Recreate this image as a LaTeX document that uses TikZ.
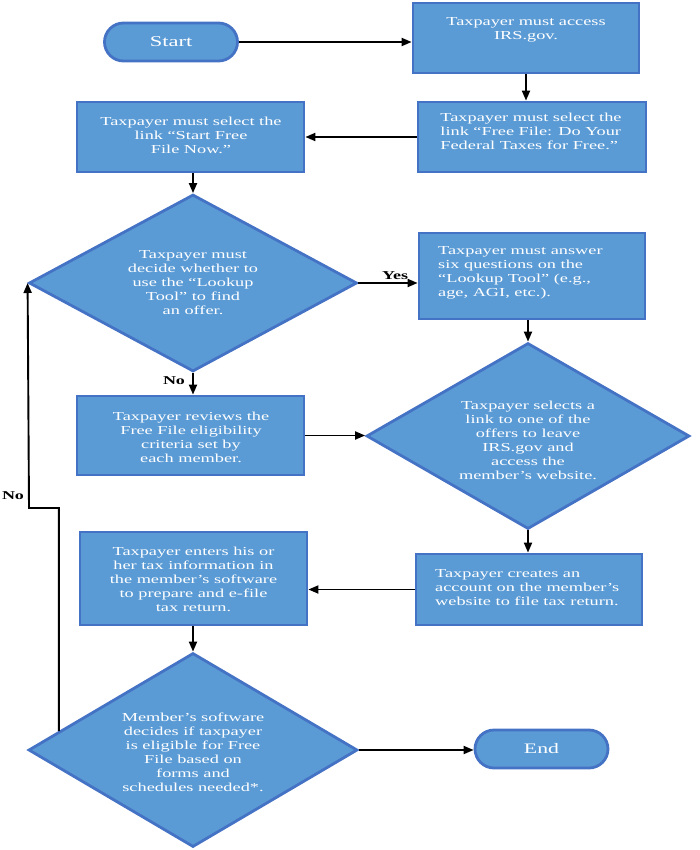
\documentclass[tikz,border=0pt]{standalone}
\usepackage{fontspec}
\setmainfont{Liberation Serif}[FakeStretch=1.5]
\usetikzlibrary{shapes.geometric,arrows.meta}
\definecolor{boxfill}{HTML}{5B9BD5}
\definecolor{boxline}{HTML}{4472C4}
\begin{document}
\begin{tikzpicture}[x=1bp,y=-1bp,
 shapebox/.style={draw=boxline, fill=boxfill, line width=2.8bp, inner sep=0},
 proc/.style={shapebox, rectangle},
 term/.style={shapebox, rectangle, rounded corners=19bp, minimum width=133bp, minimum height=38bp, text=white, font=\fontsize{15bp}{17bp}\selectfont},
 dec/.style={shapebox, diamond},
 txt/.style={text=white, inner sep=0, font=\fontsize{12.2bp}{14bp}\selectfont},
 arr/.style={line width=1.9bp, -{Triangle[length=10bp,width=8bp]}},
 lab/.style={font=\bfseries\fontsize{12bp}{14bp}\selectfont, inner sep=0}]
\useasboundingbox (0,0) rectangle (700,850);

\node[term] (start) at (171,42) {Start};
\node[proc, minimum width=226bp, minimum height=70bp] (b1) at (526,38) {};
\node[txt, align=center] (t1) at (526,30) {Taxpayer must access\\IRS.gov.};
\node[proc, minimum width=228bp, minimum height=70bp] (b2) at (532,137) {};
\node[txt, align=left] (t2) at (531,131) {Taxpayer must select the\\link “Free File: Do Your\\Federal Taxes for Free.”};
\node[proc, minimum width=227bp, minimum height=70bp] (b3) at (190.5,137) {};
\node[txt, align=center] (t3) at (191,135) {Taxpayer must select the\\link “Start Free\\File Now.”};
\node[dec, minimum width=328bp, minimum height=177bp] (d1) at (193,283) {};
\node[txt, align=center] (t4) at (193,283) {Taxpayer must\\decide whether to\\use the “Lookup\\Tool” to find\\an offer.};
\node[proc, minimum width=226bp, minimum height=86bp] (b4) at (532,276) {};
\node[txt, align=left, anchor=west] (t5) at (438,273) {Taxpayer must answer\\six questions on the\\“Lookup Tool” (e.g.,\\age, AGI, etc.).};
\node[proc, minimum width=227bp, minimum height=79bp] (b5) at (190.5,435.5) {};
\node[txt, align=center] (t6) at (191,437) {Taxpayer reviews the\\Free File eligibility\\criteria set by\\each member.};
\node[dec, minimum width=323bp, minimum height=186bp] (d2) at (528,436) {};
\node[txt, align=center] (t7) at (528,440) {Taxpayer selects a\\link to one of the\\offers to leave\\IRS.gov and\\access the\\member’s website.};
\node[proc, minimum width=227bp, minimum height=93bp] (b6) at (193.5,578.5) {};
\node[txt, align=center] (t8) at (193.5,579) {Taxpayer enters his or\\her tax information in\\the member’s software\\to prepare and e-file\\tax return.};
\node[proc, minimum width=226bp, minimum height=71bp] (b7) at (529,589.5) {};
\node[txt, align=left, anchor=west] (t9) at (435,588) {Taxpayer creates an\\account on the member’s\\website to file tax return.};
\node[dec, minimum width=329bp, minimum height=194bp] (d3) at (193,750) {};
\node[txt, align=center] (t10) at (193,752) {Member’s software\\decides if taxpayer\\is eligible for Free\\File based on\\forms and\\schedules needed*.};
\node[term, font=\fontsize{14.5bp}{16bp}\selectfont] (end) at (541.5,749) {End};

\node[lab] (yes) at (395,276) {Yes};
\node[lab] (no1) at (174,381) {No};
\node[lab] (no2) at (13,496) {No};
\coordinate (c2) at (29,508);

\draw[arr] (start.east) -- (start.east -| b1.west);
\draw[arr] (b1.south) -- (b1.south |- b2.north);
\draw[arr] (b2.west) -- (b2.west -| b3.east);
\draw[arr] (b3.south -| d1.north) -- (d1.north);
\draw[arr] (d1.east) -- (d1.east -| b4.west);
\draw[arr] (d2.north |- b4.south) -- (d2.north);
\draw[arr] (d1.south) -- (d1.south |- b5.north);
\draw[arr] (b5.east) -- (b5.east -| d2.west);
\draw[arr] (d2.south) -- (d2.south |- b7.north);
\draw[arr] (b7.west) -- (b7.west -| b6.east);
\draw[arr] (b6.south -| d3.north) -- (d3.north);
\draw[arr] (d3.east) -- (d3.east -| end.west);
\draw[arr] (d3.172) |- (c2) -- (d1.west);
\end{tikzpicture}
\end{document}
